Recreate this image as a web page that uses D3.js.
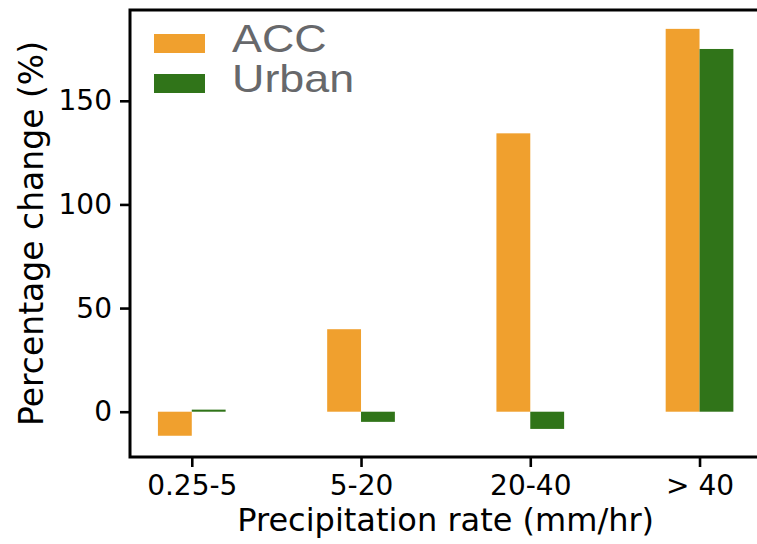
<!DOCTYPE html>
<html>
<head>
<meta charset="utf-8">
<script src="https://cdn.jsdelivr.net/npm/d3@7"></script>
<style>
  html, body { margin: 0; padding: 0; background: #fff; }
  svg { display: block; }
</style>
</head>
<body>
<script>
// Precipitation-rate bins and the percentage change in each bin
const categories = ["0.25-5", "5-20", "20-40", "> 40"];
const accValues = [-11.6, 39.8, 134.3, 184.7];
const urbanValues = [1.0, -4.9, -8.3, 175.0];
const seriesNames = ["ACC", "Urban"];
const seriesColors = ["#f0a02e", "#307419"];
const yTickValues = [0, 50, 100, 150];

const W = 757, H = 544;
const plot = { left: 130, right: 761.3, top: 10, bottom: 457 };
const barWidth = 0.2;

const svg = d3.select("body").append("svg")
  .attr("width", W).attr("height", H);

const x = d3.scaleLinear().domain([-0.365, 3.365]).range([plot.left, plot.right]);
const y = d3.scaleLinear().domain([-21.85, 193.8]).range([plot.bottom, plot.top]);

// bars: ACC to the left of each tick, Urban to the right
const series = [accValues, urbanValues];
series.forEach((vals, s) => {
  svg.append("g").selectAll("rect")
    .data(vals)
    .join("rect")
    .attr("x", (d, i) => x(i + (s === 0 ? -barWidth : 0)))
    .attr("width", (d, i) => x(i + barWidth) - x(i))
    .attr("y", d => y(Math.max(0, d)))
    .attr("height", d => Math.abs(y(d) - y(0)))
    .attr("fill", seriesColors[s]);
});

// axes
const tickFont = "'DejaVu Sans', sans-serif";
const xAxis = d3.axisBottom(x)
  .tickValues(d3.range(categories.length))
  .tickFormat(i => categories[i])
  .tickSize(10).tickPadding(8);
const gx = svg.append("g").attr("transform", `translate(0,${plot.bottom})`).call(xAxis);

const yAxis = d3.axisLeft(y).tickValues(yTickValues).tickSize(10).tickPadding(8);
const gy = svg.append("g").attr("transform", `translate(${plot.left},0)`).call(yAxis);

[gx, gy].forEach(g => {
  g.select(".domain").remove();
  g.selectAll(".tick line").attr("stroke", "#000").attr("stroke-width", 2.6);
  g.selectAll(".tick text")
    .attr("fill", "#000")
    .style("font-family", tickFont)
    .style("font-size", "28px");
});
gx.selectAll(".tick text").attr("dy", "0.71em");

// spines (left, bottom, top)
const spine = svg.append("g").attr("stroke", "#000").attr("stroke-width", 3).attr("fill", "none");
spine.append("path")
  .attr("d", `M${plot.right},${plot.top}H${plot.left}V${plot.bottom}H${plot.right}`)
  .attr("stroke-linecap", "square");

// axis titles
svg.append("text")
  .attr("x", (plot.left + plot.right) / 2)
  .attr("y", 531)
  .attr("text-anchor", "middle")
  .style("font-family", tickFont)
  .style("font-size", "32px")
  .attr("fill", "#000")
  .text("Precipitation rate (mm/hr)");

svg.append("text")
  .attr("transform", `translate(43,${(plot.top + plot.bottom) / 2}) rotate(-90)`)
  .attr("text-anchor", "middle")
  .style("font-family", tickFont)
  .style("font-size", "33px")
  .attr("fill", "#000")
  .text("Percentage change (%)");

// legend
const legend = svg.append("g");
const legendRows = [52, 92];
seriesNames.forEach((name, s) => {
  legend.append("rect")
    .attr("x", 154).attr("y", legendRows[s] - 18)
    .attr("width", 51).attr("height", 19)
    .attr("fill", seriesColors[s]);
  legend.append("text")
    .attr("transform", `translate(232,${legendRows[s]}) scale(1.15,1)`)
    .style("font-family", "'Liberation Sans', Arial, sans-serif")
    .style("font-size", "39px")
    .attr("fill", "#67686b")
    .text(name);
});
</script>
</body>
</html>
